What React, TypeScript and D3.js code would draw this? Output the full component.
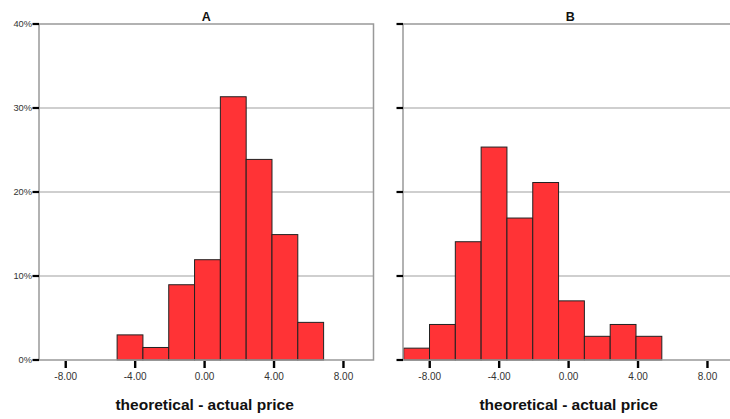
import * as React from 'react';
import * as d3 from 'd3';

// histogram data (percent of cases per bin)
const binWidth = 1.487;
const startA = -5.04;
const percentA = [2.99, 1.49, 8.96, 11.94, 31.34, 23.88, 14.93, 4.48];
const startB = -9.5;
const percentB = [1.41, 4.23, 14.08, 25.35, 16.9, 21.13, 7.04, 2.82, 4.23, 2.82];

const xTicks = [-8, -4, 0, 4, 8];
const yTicks = [0, 10, 20, 30, 40];
const xTitle = 'theoretical - actual price';

const W = 730;
const H = 419;
const plotTop = 24;
const plotBottom = 360;
const plotWidth = 334.5;
const xDomain: [number, number] = [-9.54, 9.73];
const font = '"Liberation Sans", Arial, sans-serif';

interface PanelProps {
    title: string,
    start: number,
    values: number[],
    left: number,
    showLabels: boolean,
}

const Panel = ({ title, start, values, left, showLabels }: PanelProps) => {
    const x = d3.scaleLinear().domain(xDomain).range([left, left + plotWidth]);
    const y = d3.scaleLinear().domain([0, 40]).range([plotBottom, plotTop]);
    const cx = (left + left + plotWidth) / 2;

    return <g>
        <text x={cx} y={21} textAnchor="middle" fontFamily={font} fontWeight="bold" fontSize={12.5} fill="#111">{title}</text>
        {yTicks.filter(t => t > 0 && t < 40).map(t =>
            <line key={'g' + t} x1={x(xDomain[0])} x2={x(xDomain[1])} y1={y(t)} y2={y(t)} stroke="#a0a0a0" strokeWidth={1.2} />
        )}
        {values.map((v, i) => {
            const x0 = start + i * binWidth;
            return <rect key={i}
                x={x(x0)} width={x(x0 + binWidth) - x(x0)}
                y={y(v)} height={y(0) - y(v)}
                fill="#ff3336" stroke="#222" strokeWidth={1} />;
        })}
        <path d={`M${x(xDomain[0])},${y(0)}V${y(40)}H${x(xDomain[1])}V${y(0)}H${x(xDomain[0])}`}
            fill="none" stroke="#999" strokeWidth={1.5} />
        {yTicks.map(t => <g key={'y' + t}>
            <line x1={left - 6.5} x2={left} y1={y(t)} y2={y(t)} stroke="#000" strokeWidth={2.2} />
            {showLabels && <text x={left - 7} y={y(t) + 3.3} textAnchor="end" fontFamily={font} fontSize={9.3} fill="#333">{t}%</text>}
        </g>)}
        {xTicks.map(t => <g key={'x' + t}>
            <line x1={x(t)} x2={x(t)} y1={plotBottom + 1} y2={plotBottom + 8} stroke="#000" strokeWidth={2.4} />
            <text x={x(t)} y={plotBottom + 19.5} textAnchor="middle" fontFamily={font} fontSize={10} fill="#333">{t.toFixed(2)}</text>
        </g>)}
        <text x={x(0)} y={plotBottom + 49.5} textAnchor="middle" fontFamily={font} fontWeight="bold" fontSize={15.5} fill="#111">{xTitle}</text>
    </g>;
};

export default function App() {
    return <div style={{ position: 'absolute', left: 0, top: 0 }}>
        <svg width={W} height={H} style={{ display: 'block', background: '#fff' }}>
            <Panel title="A" start={startA} values={percentA} left={39} showLabels={true} />
            <Panel title="B" start={startB} values={percentB} left={403} showLabels={false} />
        </svg>
    </div>;
}
